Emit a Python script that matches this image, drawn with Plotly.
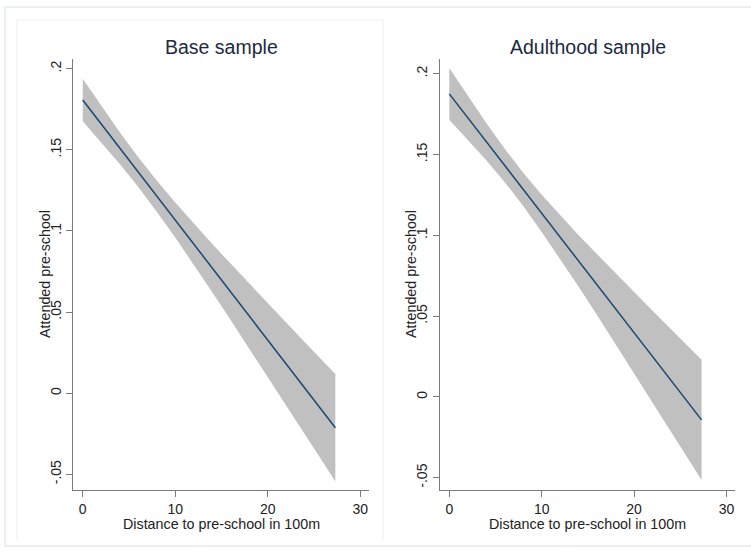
import plotly.graph_objects as go

# ---- data ----
x_pts = [0, 2, 4, 6, 8, 10, 12, 14, 16, 18, 20, 22, 24, 26, 27.3]

base_fit = [0.1807, 0.1659, 0.1511, 0.1363, 0.1215, 0.1067, 0.0919, 0.0771,
            0.0623, 0.0475, 0.0327, 0.0179, 0.0031, -0.0117, -0.0213]
base_lo = [0.1676, 0.1547, 0.1413, 0.1271, 0.1119, 0.0959, 0.0792, 0.0622,
           0.0449, 0.0275, 0.0100, -0.0076, -0.0252, -0.0429, -0.0544]
base_hi = [0.1938, 0.1771, 0.1609, 0.1455, 0.1311, 0.1176, 0.1046, 0.0920,
           0.0797, 0.0675, 0.0554, 0.0434, 0.0314, 0.0195, 0.0118]

adult_fit = [0.1875, 0.1727, 0.1580, 0.1432, 0.1284, 0.1136, 0.0988, 0.0841,
             0.0693, 0.0545, 0.0397, 0.0250, 0.0102, -0.0046, -0.0142]
adult_lo = [0.1715, 0.1592, 0.1465, 0.1329, 0.1181, 0.1021, 0.0853, 0.0681,
            0.0505, 0.0326, 0.0146, -0.0033, -0.0215, -0.0396, -0.0514]
adult_hi = [0.2035, 0.1862, 0.1695, 0.1535, 0.1387, 0.1251, 0.1123, 0.1001,
            0.0882, 0.0764, 0.0648, 0.0533, 0.0419, 0.0304, 0.0230]

y_tickvals = [-0.05, 0, 0.05, 0.1, 0.15, 0.2]
y_ticktext = ["-.05", "0", ".05", ".1", ".15", ".2"]
x_tickvals = [0, 10, 20, 30]
x_ticktext = ["0", "10", "20", "30"]

panel_titles = ["Base sample", "Adulthood sample"]
x_title = "Distance to pre-school in 100m"
y_title = "Attended pre-school"

W, H = 751, 556
FONT = "Liberation Sans, Arial, sans-serif"
BAND = "#c0c0c0"
LINE = "#1a476f"
AX = "#7b7b7b"
TXT = "#222222"

fig = go.Figure()

panels = [
    (base_fit, base_lo, base_hi, "x", "y"),
    (adult_fit, adult_lo, adult_hi, "x2", "y2"),
]
for fit, lo, hi, xa, ya in panels:
    fig.add_trace(go.Scatter(x=x_pts, y=lo, mode="lines", line=dict(width=0, color=BAND),
                             xaxis=xa, yaxis=ya, showlegend=False, hoverinfo="skip"))
    fig.add_trace(go.Scatter(x=x_pts, y=hi, mode="lines", line=dict(width=0, color=BAND),
                             fill="tonexty", fillcolor=BAND,
                             xaxis=xa, yaxis=ya, showlegend=False, hoverinfo="skip"))
    fig.add_trace(go.Scatter(x=x_pts, y=fit, mode="lines", line=dict(width=1.5, color=LINE),
                             xaxis=xa, yaxis=ya, showlegend=False))

def px_x(p):
    return p / W

def px_y(p):
    return 1 - p / H

common_x = dict(showline=True, linecolor=AX, linewidth=1.3, ticks="outside", ticklen=6,
                tickcolor=AX, tickwidth=1, showgrid=False, zeroline=False, automargin=False,
                tickvals=x_tickvals, ticktext=x_ticktext,
                tickfont=dict(family=FONT, size=14, color=TXT))
common_y = dict(showline=True, linecolor=AX, linewidth=1.3, ticks="outside", ticklen=6,
                tickcolor=AX, tickwidth=1, showgrid=False, zeroline=False, automargin=False,
                tickvals=y_tickvals, ticktext=y_ticktext, tickangle=-90,
                tickfont=dict(family=FONT, size=14, color=TXT))

ydom = [px_y(490), px_y(58.5)]
fig.update_layout(
    width=W, height=H,
    margin=dict(l=0, r=0, t=0, b=0),
    paper_bgcolor="white", plot_bgcolor="white",
    xaxis=dict(domain=[px_x(73.3), px_x(369.3)], range=[-1.02, 30.97], anchor="y", **common_x),
    yaxis=dict(domain=ydom, range=[-0.0597, 0.2063], anchor="x", **common_y),
    xaxis2=dict(domain=[px_x(440), px_x(735)], range=[-1.006, 30.92], anchor="y2", **common_x),
    yaxis2=dict(domain=ydom, range=[-0.0576, 0.2094], anchor="x2", **common_y),
)

ann = []
for cx, ttl, ylab_x in [(221, panel_titles[0], 45), (587.5, panel_titles[1], 411)]:
    ann.append(dict(x=px_x(cx), y=px_y(47), xref="paper", yref="paper", text=ttl,
                    showarrow=False, xanchor="center", yanchor="middle",
                    font=dict(family=FONT, size=19.5, color="#1c2a3f")))
    ann.append(dict(x=px_x(cx), y=px_y(523.5), xref="paper", yref="paper", text=x_title,
                    showarrow=False, xanchor="center", yanchor="middle",
                    font=dict(family=FONT, size=14.3, color=TXT)))
    ann.append(dict(x=px_x(ylab_x), y=px_y(274), xref="paper", yref="paper", text=y_title,
                    showarrow=False, xanchor="center", yanchor="middle", textangle=-90,
                    font=dict(family=FONT, size=14.3, color=TXT)))
fig.update_layout(annotations=ann)

FRAME = "#e6eced"
shapes = [
    dict(type="rect", xref="paper", yref="paper", x0=px_x(5), x1=px_x(760),
         y0=px_y(546), y1=px_y(7), line=dict(color=FRAME, width=1.5)),
    dict(type="line", xref="paper", yref="paper", x0=px_x(17), x1=px_x(383),
         y0=px_y(20), y1=px_y(20), line=dict(color="#eef2f2", width=1.2)),
    dict(type="line", xref="paper", yref="paper", x0=px_x(17), x1=px_x(17),
         y0=px_y(20), y1=px_y(540), line=dict(color="#eef2f2", width=1.2)),
    dict(type="line", xref="paper", yref="paper", x0=px_x(383), x1=px_x(383),
         y0=px_y(20), y1=px_y(540), line=dict(color="#eef2f2", width=1.2)),
]
fig.update_layout(shapes=shapes)

fig.write_html("out.html",
               config={"displayModeBar": False},
               post_script="document.body.style.margin='0px';document.body.style.overflow='hidden';")
